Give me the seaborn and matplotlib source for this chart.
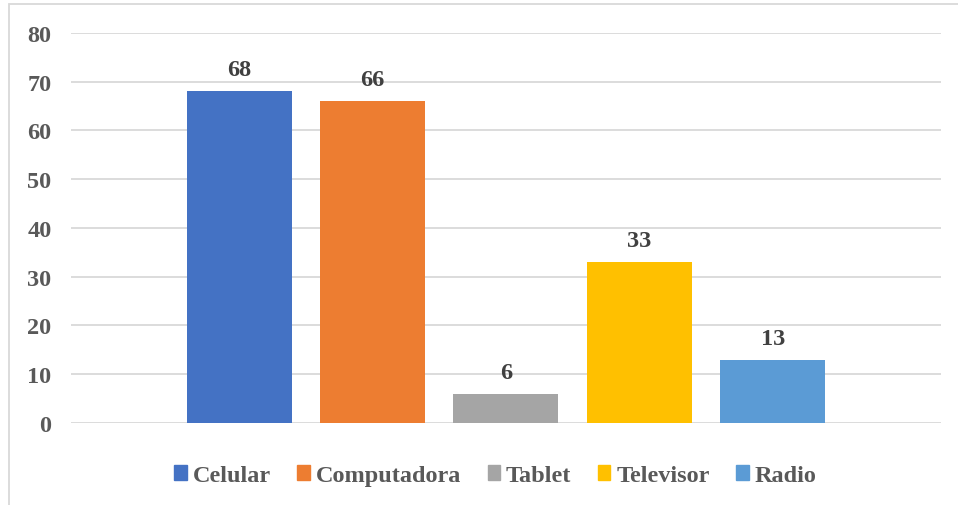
import matplotlib.pyplot as plt
import matplotlib.patches as mpatches
import seaborn as sns
import pandas as pd

sns.set_theme(style="white")
plt.rcParams['font.family'] = ['Liberation Serif', 'DejaVu Serif']

# Data
dispositivos = ["Celular", "Computadora", "Tablet", "Televisor", "Radio"]
cantidades = [68, 66, 6, 33, 13]
colores = ["#4472C4", "#ED7D31", "#A5A5A5", "#FFC000", "#5B9BD5"]

df = pd.DataFrame({"grupo": [""] * len(dispositivos),
                   "Dispositivo": dispositivos,
                   "Cantidad": cantidades})

fig = plt.figure(figsize=(9.58, 5.06), dpi=100)
ax = fig.add_axes([0.0741, 0.162, 0.908, 0.771])

sns.barplot(data=df, x="grupo", y="Cantidad", hue="Dispositivo",
            hue_order=dispositivos, palette=colores, width=0.767, gap=0.213,
            saturation=1, linewidth=0, ax=ax, legend=True)

ax.set_xlim(-0.5, 0.5)
ax.set_ylim(0, 80)
ax.set_yticks(range(0, 81, 10))
ax.yaxis.grid(True, color="#d9d9d9", linewidth=1.3)
ax.set_axisbelow(True)
ax.set_xticks([])
ax.set_xlabel("")
ax.set_ylabel("")
for s in ax.spines.values():
    s.set_visible(False)
ax.tick_params(axis="y", length=0, pad=14, labelsize=17.5, labelcolor="#595959")
for lbl in ax.get_yticklabels():
    lbl.set_fontweight("bold")

# Value labels on top of bars
for cont in ax.containers:
    ax.bar_label(cont, padding=8, fontsize=17.5, fontweight="bold", color="#404040")

# Legend at the bottom
handles = [mpatches.Patch(color=c, label=d) for d, c in zip(dispositivos, colores)]
ax.legend(handles=handles, loc="center", bbox_to_anchor=(0.488, -0.135), ncol=5,
          frameon=False, handlelength=0.5, handleheight=0.55, handletextpad=0.25,
          columnspacing=1.1, prop={"size": 17.5, "weight": "bold"}, labelcolor="#595959")

# Chart border
fig.patches.append(mpatches.Rectangle((9 / 958, -0.05), 1.2, 1.05 - 5 / 506,
                                      transform=fig.transFigure, fill=False,
                                      edgecolor="#d9d9d9", linewidth=1.3))

fig.savefig("out.png", dpi=100)
